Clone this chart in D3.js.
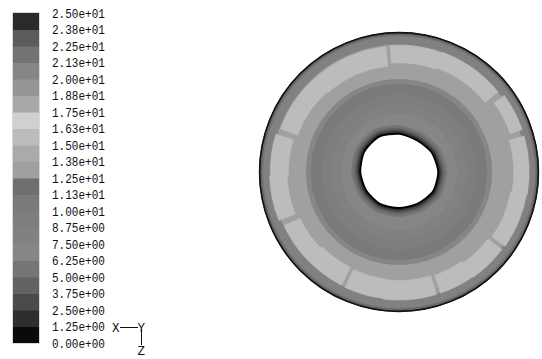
<!DOCTYPE html>
<html>
<head>
<meta charset="utf-8">
<script src="https://cdn.jsdelivr.net/npm/d3@7"></script>
<style>
  html, body { margin: 0; padding: 0; background: #fff; }
  svg { display: block; }
  .lbl { font-family: "Liberation Mono", "DejaVu Sans Mono", monospace; font-size: 12.5px; fill: #111; }
</style>
</head>
<body>
<svg id="chart" width="542" height="359"></svg>
<script>
// legend: 21 level labels (top = 25), 20 grey bands from low to high value
const tickValues = d3.range(0, 21).map(i => i * 1.25);
const tickLabels = ['0.00e+00', '1.25e+00', '2.50e+00', '3.75e+00', '5.00e+00', '6.25e+00', '7.50e+00',
  '8.75e+00', '1.00e+01', '1.13e+01', '1.25e+01', '1.38e+01', '1.50e+01', '1.63e+01', '1.75e+01',
  '1.88e+01', '2.00e+01', '2.13e+01', '2.25e+01', '2.38e+01', '2.50e+01'];
const bandGrays = ['#0a0a0a', '#2e2e2e', '#4a4a4a', '#636363', '#757575', '#868686', '#818181',
  '#7e7e7e', '#7a7a7a', '#6f6f6f', '#a0a0a0', '#aaaaaa', '#bcbcbc', '#d0d0d0', '#a8a8a8',
  '#959595', '#868686', '#737373', '#5b5b5b', '#2a2a2a'];

// radial contour levels, r in % of outer wall radius, v = field value
const ringR = [100, 99, 98, 97, 91, 66.5, 63, 55.5, 48.5, 41.5];
const ringV = [2, 4.4, 5.6, 7.5, 13, 7, 10.5, 9.3, 8, 7];

// bands hugging the inner hole: offset (% of wall radius) outside the hole edge
const holeOff = [6.5, 4.5, 3, 1.8, 0.8];
const holeV = [5.6, 4.4, 3, 2, 0.6];
// hole edge radius (%) every 30 deg, clockwise from top
const holeAng = [0, 30, 60, 90, 120, 150, 180, 210, 240, 270, 300, 330];
const holeR = [27.1, 25.9, 27.1, 27.9, 27.9, 26.1, 25.6, 26.4, 26.8, 27.5, 28.6, 28.9];

// light patches between the walls (deg clockwise from top, r in %)
const patchA0 = [290, 318, 356, 20, 54, 74, 100, 127, 145, 163, 187, 207, 226, 248, 268];
const patchA1 = [318, 354, 20, 51, 71, 100, 125, 145, 161, 187, 205, 226, 245, 268, 287];
const patchIn = [77, 76, 78, 79, 84, 82, 81, 79.5, 78, 77.5, 77, 76.5, 78, 80, 79];
const patchOut = [90, 90, 90.5, 91, 93, 93, 92.5, 92, 91.5, 91.5, 91, 90.5, 90.5, 92.5, 92];
const patchV = 15.5;

const svg = d3.select('#chart');
const color = d3.scaleQuantize().domain([0, 25]).range(bandGrays);

/** legend */
const y = d3.scaleLinear().domain([0, 25]).range([343, 13]);
const leg = svg.append('g');
leg.selectAll('rect')
  .data(d3.range(20))
  .join('rect')
  .attr('x', 13)
  .attr('width', 26)
  .attr('y', i => y(tickValues[i + 1]))
  .attr('height', i => y(tickValues[i]) - y(tickValues[i + 1]) + 0.5)
  .attr('fill', i => color(tickValues[i] + 0.6));
leg.append('rect')
  .attr('x', 12.5).attr('y', y(25) - 0.5)
  .attr('width', 27).attr('height', y(0) - y(25) + 1)
  .attr('fill', 'none').attr('stroke', '#d8d8d8');
leg.selectAll('text')
  .data(tickValues)
  .join('text')
  .attr('class', 'lbl')
  .attr('x', 52)
  .attr('y', d => y(d) + 1.5)
  .attr('dominant-baseline', 'middle')
  .attr('textLength', 53)
  .attr('lengthAdjust', 'spacingAndGlyphs')
  .text((d, i) => tickLabels[i]);

/** axis triad */
const tri = svg.append('g').attr('stroke', '#111').attr('stroke-width', 1);
tri.append('line').attr('x1', 120).attr('y1', 327.5).attr('x2', 138).attr('y2', 327.5);
tri.append('line').attr('x1', 141.5).attr('y1', 329).attr('x2', 141.5).attr('y2', 345);
const triText = svg.append('g').attr('class', 'lbl').style('font-size', '12.5px');
triText.append('text').attr('x', 112).attr('y', 332).text('X');
triText.append('text').attr('x', 137.5).attr('y', 332).text('Y');
triText.append('text').attr('x', 137.5).attr('y', 354.5).text('Z');

/** contour disc */
const cx = 399, cy = 172;
const r = d3.scaleLinear().domain([0, 100]).range([0, 140]);
const plot = svg.append('g').attr('transform', `translate(${cx},${cy})`);

plot.selectAll('circle.ring')
  .data(ringR)
  .join('circle')
  .attr('class', 'ring')
  .attr('r', d => r(d))
  .attr('fill', (d, i) => color(ringV[i]));

const arc = d3.arc();
plot.selectAll('path.patch')
  .data(patchA0)
  .join('path')
  .attr('class', 'patch')
  .attr('d', (d, i) => arc({
    startAngle: d * Math.PI / 180,
    endAngle: (patchA1[i] < d ? patchA1[i] + 360 : patchA1[i]) * Math.PI / 180,
    innerRadius: r(patchIn[i]),
    outerRadius: r(patchOut[i])
  }))
  .attr('fill', color(patchV))
  .attr('stroke', color(patchV))
  .attr('stroke-width', 0.6);

const holeLine = off => d3.lineRadial()
  .angle((d, i) => holeAng[i] * Math.PI / 180)
  .radius(d => r(d + off))
  .curve(d3.curveCardinalClosed.tension(0.3))(holeR);

plot.selectAll('path.hb')
  .data(holeOff)
  .join('path')
  .attr('class', 'hb')
  .attr('d', d => holeLine(d))
  .attr('fill', (d, i) => color(holeV[i]));

plot.append('path')
  .attr('d', holeLine(0))
  .attr('fill', '#fff')
  .attr('stroke', '#000')
  .attr('stroke-width', 1.5);

plot.append('circle')
  .attr('r', r(100) - 0.5)
  .attr('fill', 'none')
  .attr('stroke', '#111')
  .attr('stroke-width', 1.4);
</script>
</body>
</html>
